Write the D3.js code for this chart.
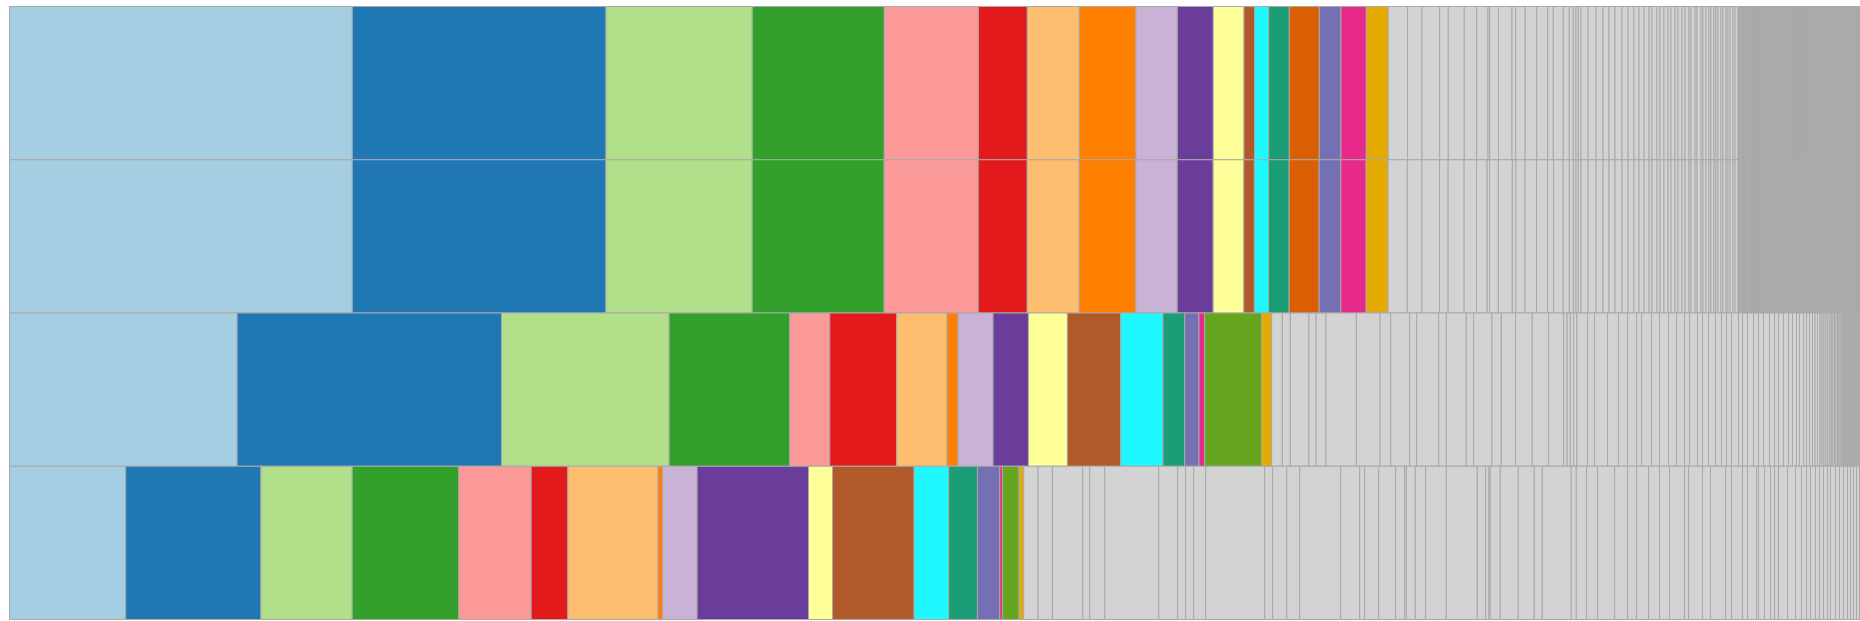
<!DOCTYPE html>
<html>
<head>
<meta charset="utf-8">
<script src="https://cdn.jsdelivr.net/npm/d3@7"></script>
<style>
  body { margin: 0; background: #fff; }
  svg { display: block; }
</style>
</head>
<body>
<svg id="chart"></svg>
<script>
// samples, one horizontal stacked bar each (top to bottom)
var samples = ["Sample 1", "Sample 2", "Sample 3", "Sample 4"];

// the named taxa, each with its own colour
var taxa = ["Taxon A", "Taxon B", "Taxon C", "Taxon D", "Taxon E", "Taxon F", "Taxon G",
            "Taxon H", "Taxon I", "Taxon J", "Taxon K", "Taxon L", "Taxon M", "Taxon N",
            "Taxon O", "Taxon P", "Taxon Q", "Taxon R", "Taxon S"];
var taxaColors = ["#a6cee3", "#1f78b4", "#b2df8a", "#33a02c", "#fb9a99", "#e31a1c", "#fdbf6f",
                  "#ff7f00", "#cab2d6", "#6a3d9a", "#ffff99", "#b15928", "#1ff8ff", "#1b9e77",
                  "#d95f02", "#7570b3", "#e7298a", "#66a61e", "#e6ab02"];
var otherColor = "#d3d3d3";

// abundance of the named taxa per sample
var named1 = [342.8, 253.7, 146.3, 132, 94, 49, 52, 56.7, 41.3, 36, 30.7, 10.5, 14.2, 20.6, 30, 21.7, 25.3, 0, 22];
var named2 = [342.8, 253.7, 146.3, 132, 94, 49, 52, 56.7, 41.3, 36, 30.7, 10.5, 14.2, 20.6, 30, 21.7, 25.3, 0, 22];
var named3 = [227.7, 264.5, 167.6, 120.7, 40, 67, 50.3, 11, 35, 35.4, 39, 53.3, 42.3, 21.7, 0, 14.3, 5.7, 57, 10];
var named4 = [116.2, 135.3, 91.3, 106.7, 72.3, 36.7, 90.2, 4.5, 34.6, 111.4, 24, 81.6, 34.7, 28.7, 0, 22.3, 2.7, 16.6, 4.7];

// the long tail of minor taxa (all drawn grey)
var other1 = [
  19.2, 14.5, 17.7, 8.6, 16, 12.4, 11.3, 1.7, 8.8, 13.5,
  3.7, 9.5, 11.5, 11, 5.6, 10, 6, 4, 2.7, 2.3,
  2.7, 7, 8, 7, 6, 6, 7, 6, 6, 5,
  5, 5, 3, 5, 3, 4, 4, 3, 4, 3,
  4, 3, 4, 2, 4, 2, 4, 2, 3, 3,
  2, 3, 2, 2, 3, 2, 3, 2, 2, 3,
  2, 3,
  0.9, 0.9, 0.9, 0.9, 0.9, 0.9, 0.9, 0.9, 0.9, 0.9, 0.9, 0.9, 0.9, 0.9, 0.9, 0.9, 0.9, 0.9, 0.9, 0.9,
  0.8, 0.8, 0.8, 0.8, 0.8, 0.8, 0.8, 0.8, 0.8, 0.8, 0.8, 0.8, 0.8, 0.8, 0.8, 0.8, 0.8, 0.8, 0.8, 0.8,
  0.8, 0.8, 0.8, 0.8, 0.8, 0.8, 0.8, 0.8, 0.8, 0.8, 0.8, 0.8, 0.8, 0.8, 0.8, 0.8, 0.8, 0.8, 0.8, 0.8,
  0.75, 0.75, 0.75, 0.75, 0.75, 0.75, 0.75, 0.75, 0.75, 0.75, 0.75, 0.75, 0.75, 0.75, 0.75, 0.75, 0.75, 0.75, 0.75, 0.75,
  0.75, 0.75, 0.75, 0.75, 0.75, 0.75, 0.75, 0.75, 0.75, 0.75, 0.75, 0.75, 0.75, 0.75, 0.75, 0.75, 0.75, 0.75, 0.75, 0.75,
  0.7, 0.7, 0.7, 0.7, 0.7, 0.7, 0.7, 0.7, 0.7, 0.7, 0.7, 0.7, 0.7, 0.7, 0.7, 0.7, 0.7, 0.7, 0.7, 0.7,
  0.7, 0.7, 0.7, 0.7, 0.7, 0.7, 0.7, 0.7, 0.7, 0.7, 0.7, 0.7, 0.7, 0.7, 0.7, 0.7, 0.7, 0.7, 0.7, 0.7,
  0.6, 0.6, 0.6, 0.6, 0.6, 0.6, 0.6, 0.6, 0.6, 0.6, 0.6, 0.6, 0.6, 0.6, 0.6, 0.6, 0.6, 0.6, 0.6, 0.6,
  0.5, 0.5, 0.5
];
var other2 = [
  19.2, 14.5, 17.7, 8.6, 16, 12.4, 10.6, 2.4, 8.8, 14,
  3.5, 9.2, 11.5, 11, 6, 9.6, 6.2, 4, 2.7, 2.3,
  2.7, 7, 8, 7, 6, 6, 7, 6, 6, 5,
  5, 5, 3, 5, 3, 4, 4, 3, 4, 3,
  4, 3, 4, 2, 4, 2, 4, 2, 3, 3,
  2, 3, 2, 2, 3, 2, 3, 2, 2, 3,
  2, 3,
  0.9, 0.9, 0.9, 0.9, 0.9, 0.9, 0.9, 0.9, 0.9, 0.9, 0.9, 0.9, 0.9, 0.9, 0.9, 0.9, 0.9, 0.9, 0.9, 0.9,
  0.8, 0.8, 0.8, 0.8, 0.8, 0.8, 0.8, 0.8, 0.8, 0.8, 0.8, 0.8, 0.8, 0.8, 0.8, 0.8, 0.8, 0.8, 0.8, 0.8,
  0.8, 0.8, 0.8, 0.8, 0.8, 0.8, 0.8, 0.8, 0.8, 0.8, 0.8, 0.8, 0.8, 0.8, 0.8, 0.8, 0.8, 0.8, 0.8, 0.8,
  0.75, 0.75, 0.75, 0.75, 0.75, 0.75, 0.75, 0.75, 0.75, 0.75, 0.75, 0.75, 0.75, 0.75, 0.75, 0.75, 0.75, 0.75, 0.75, 0.75,
  0.75, 0.75, 0.75, 0.75, 0.75, 0.75, 0.75, 0.75, 0.75, 0.75, 0.75, 0.75, 0.75, 0.75, 0.75, 0.75, 0.75, 0.75, 0.75, 0.75,
  0.7, 0.7, 0.7, 0.7, 0.7, 0.7, 0.7, 0.7, 0.7, 0.7, 0.7, 0.7, 0.7, 0.7, 0.7, 0.7, 0.7, 0.7, 0.7, 0.7,
  0.7, 0.7, 0.7, 0.7, 0.7, 0.7, 0.7, 0.7, 0.7, 0.7, 0.7, 0.7, 0.7, 0.7, 0.7, 0.7, 0.7, 0.7, 0.7, 0.7,
  0.6, 0.6, 0.6, 0.6, 0.6, 0.6, 0.6, 0.6, 0.6, 0.6, 0.6, 0.6, 0.6, 0.6, 0.6, 0.6, 0.6, 0.6, 0.6, 0.6,
  0.5, 0.5, 0.5
];
var other3 = [
  10.7, 8, 18.6, 7.2, 9.8, 30.4, 23.8, 10.5, 19, 7,
  22, 7.7, 20, 7.3, 18.3, 9.4, 14.3, 16.7, 16.3, 15,
  3.5, 3.2, 3.3, 3.3,
  10.7, 7, 13, 11, 9, 9, 5, 10, 8, 9,
  8, 8, 5, 8, 5, 6, 7, 6, 5, 5,
  7, 4, 5, 6, 5, 5, 6, 5, 4, 5,
  5, 4, 4, 3, 4,
  3, 3, 3, 2.5, 2.5, 2.5, 2, 2, 2, 2,
  2, 1.5, 1.5, 1.5, 1.5, 1.5, 1.5, 1.2, 1.2, 1.2,
  1.2, 1, 1, 1, 1, 1, 1, 1, 1, 1,
  1, 1, 1, 1, 1, 0.85, 0.85
];
var other4 = [
  14.3, 14.4, 30.3, 7, 15, 54, 19, 8, 8, 12,
  59, 8, 14, 13, 41, 19, 5, 14, 17, 9,
  1.7, 9, 10.3, 20.7, 31, 8.3, 3.3, 1.4, 10, 18,
  16, 8, 29, 5, 10.3, 11, 17, 13, 9, 12,
  11, 10, 15, 4, 14, 8, 15, 6, 11, 5,
  9, 2, 6, 6, 4, 4, 9, 8, 6, 5,
  4, 5, 4, 4, 4, 3, 5, 4, 4, 4,
  3, 3, 3, 3
];

var named = [named1, named2, named3, named4];
var others = [other1, other2, other3, other4];

var width = 1860, height = 621;
var left = 9.5, right = 1859.5;

var svg = d3.select("#chart")
            .attr("width", width)
            .attr("height", height);

var y = d3.scaleBand()
          .domain(samples)
          .range([6.5, 619.5]);

samples.forEach(function (sample, i) {
	var values = named[i].concat(others[i]);
	var x = d3.scaleLinear()
	          .domain([0, d3.sum(values)])
	          .range([left, right]);

	// running start of each segment
	var cum = 0;
	var segments = values.map(function (v, j) {
		var seg = {start: cum, value: v, color: j < taxa.length ? taxaColors[j] : otherColor};
		cum += v;
		return seg;
	}).filter(function (d) { return d.value > 0; });

	svg.append("g")
	   .attr("class", "sample")
	 .selectAll("rect")
	   .data(segments)
	   .enter().append("rect")
	   .attr("x",      function (d) { return x(d.start); })
	   .attr("width",  function (d) { return x(d.start + d.value) - x(d.start); })
	   .attr("y",      y(sample))
	   .attr("height", y.bandwidth())
	   .attr("fill",   function (d) { return d.color; })
	   .attr("stroke", "#a9a9a9")
	   .attr("stroke-width", 1);
});
</script>
</body>
</html>
